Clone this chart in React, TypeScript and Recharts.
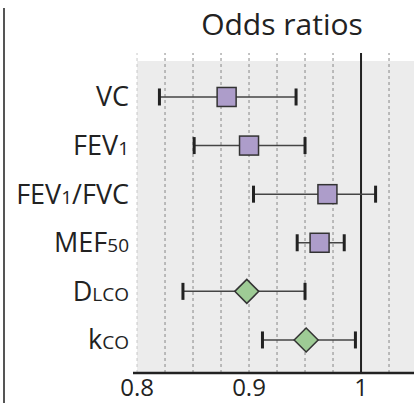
import React from "react";
import {
  ScatterChart,
  Scatter,
  XAxis,
  YAxis,
  ReferenceArea,
  ReferenceLine,
  ErrorBar,
} from "recharts";

// row labels: main part, small subscript-ish part, trailing part
const labelMain = ["VC", "FEV", "FEV", "MEF", "D", "k"];
const labelSmall = ["", "1", "1", "50", "LCO", "CO"];
const labelTail = ["", "", "/FVC", "", "", ""];

// odds ratios and 95% CI
const oddsRatio = [0.88, 0.9, 0.97, 0.963, 0.898, 0.951];
const ciLow = [0.82, 0.851, 0.904, 0.943, 0.841, 0.912];
const ciHigh = [0.942, 0.95, 1.013, 0.985, 0.95, 0.995];
const markerKind = ["square", "square", "square", "square", "diamond", "diamond"];

const xTicks = [0.8, 0.9, 1];
const gridLines = [0.825, 0.85, 0.875, 0.9, 0.925, 0.95, 0.975, 1.025];

const X_MIN = 0.7964;
const X_MAX = 1.0473;
const FONT = "'Open Sans', 'Noto Sans', sans-serif";

const rows = oddsRatio.map((v, i) => ({
  x: v,
  y: i,
  err: [v - ciLow[i], ciHigh[i] - v],
  kind: markerKind[i],
}));
const caps = rows.flatMap((r, i) => [
  { x: ciLow[i], y: i },
  { x: ciHigh[i], y: i },
]);

const RowLabel = ({ x, y, payload }: any) => {
  const i = payload.value;
  return (
    <text
      x={x}
      y={y + 9.5}
      textAnchor="end"
      fontFamily={FONT}
      fontSize={27}
      fill="#222"
    >
      {labelMain[i]}
      {labelSmall[i] && <tspan fontSize={19}>{labelSmall[i]}</tspan>}
      {labelTail[i]}
    </text>
  );
};

const Marker = (props: any) => {
  const { cx, cy, payload } = props;
  if (payload.kind === "diamond") {
    const h = 12;
    return (
      <polygon
        points={`${cx},${cy - h} ${cx + h},${cy} ${cx},${cy + h} ${cx - h},${cy}`}
        fill="#9ecb95"
        stroke="#333"
        strokeWidth={1.5}
      />
    );
  }
  return (
    <rect
      x={cx - 9.5}
      y={cy - 9.5}
      width={19}
      height={19}
      fill="#ad9dca"
      stroke="#333"
      strokeWidth={1.5}
    />
  );
};

const Cap = ({ cx, cy }: any) => (
  <rect x={cx - 1.5} y={cy - 8.5} width={3} height={17} fill="#222" />
);

const Nothing = () => <g />;

export default function App() {
  return (
    <div style={{ position: "absolute", left: 0, top: 0, width: 414, height: 403, background: "#fff" }}>
      <div
        style={{
          position: "absolute",
          left: 3,
          top: 8,
          width: 1.5,
          height: 395,
          background: "#555",
        }}
      />
      <div
        style={{
          position: "absolute",
          left: 0,
          width: 564,
          top: 2,
          textAlign: "center",
          fontFamily: FONT,
          fontSize: 30,
          color: "#222",
          lineHeight: "44px",
        }}
      >
        Odds ratios
      </div>
      <ScatterChart
        width={414}
        height={403}
        margin={{ top: 53, right: 0, bottom: 0, left: 0 }}
      >
        <XAxis
          type="number"
          dataKey="x"
          domain={[X_MIN, X_MAX]}
          allowDataOverflow
          ticks={xTicks}
          tickFormatter={(v) => String(v)}
          tickSize={0}
          tickMargin={6}
          height={30}
          axisLine={{ stroke: "#222", strokeWidth: 2.5 }}
          tick={{ fontFamily: FONT, fontSize: 24, fill: "#222" }}
        />
        <YAxis
          type="number"
          dataKey="y"
          domain={[-0.905, 5.68]}
          allowDataOverflow
          reversed
          ticks={[0, 1, 2, 3, 4, 5]}
          width={133}
          tickSize={0}
          tickMargin={4}
          axisLine={false}
          tick={<RowLabel />}
        />
        <ReferenceArea
          x1={0.8}
          x2={X_MAX}
          y1={-0.74}
          y2={5.68}
          fill="#ececec"
          fillOpacity={1}
          stroke="none"
        />
        <ReferenceLine x={0.8} stroke="#c8c8c8" strokeDasharray="3 3" />
        {gridLines.map((g) => (
          <ReferenceLine key={g} x={g} stroke="#888" strokeDasharray="3 3" />
        ))}
        <ReferenceLine x={1} stroke="#222" strokeWidth={2} />
        <Scatter data={rows} shape={<Nothing />} isAnimationActive={false}>
          <ErrorBar
            dataKey="err"
            direction="x"
            width={0}
            stroke="#444"
            strokeWidth={1.5}
            isAnimationActive={false}
          />
        </Scatter>
        <Scatter data={caps} shape={<Cap />} isAnimationActive={false} />
        <Scatter data={rows} shape={<Marker />} isAnimationActive={false} />
      </ScatterChart>
    </div>
  );
}
